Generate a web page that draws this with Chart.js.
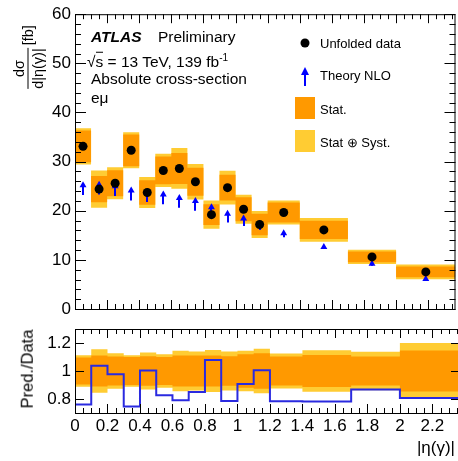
<!DOCTYPE html>
<html><head><meta charset="utf-8">
<script src="https://cdn.jsdelivr.net/npm/chart.js@4.4.1/dist/chart.umd.min.js"></script>
<style>
html,body{margin:0;padding:0;background:#fff;overflow:hidden;width:458px;height:461px;}
#wrap{position:relative;width:458px;height:461px;overflow:hidden;font-family:"Liberation Sans",Arial,sans-serif;color:#000;}
canvas{position:absolute;left:0;top:0;}
.t{position:absolute;white-space:nowrap;line-height:1;transform:translateY(-50%);}
.leg{font-size:13px;}
.hdr{font-size:15.5px;}
.rot{position:absolute;white-space:nowrap;line-height:1;transform:translate(-50%,-50%) rotate(-90deg);}
</style></head><body>
<div id="wrap">
<canvas id="bot" width="460" height="461"></canvas>
<canvas id="top" width="460" height="461"></canvas>

<div class="t hdr" style="left:91px;top:37px;"><b><i>ATLAS</i></b></div>
<div class="t hdr" style="left:158px;top:37px;">Preliminary</div>
<div class="t hdr" style="left:87px;top:61px;">√<span style="border-top:1px solid #000;">s</span> = 13 TeV, 139 fb<sup style="font-size:10px;vertical-align:6px;">-1</sup></div>
<div class="t hdr" style="left:91px;top:79px;">Absolute cross-section</div>
<div class="t hdr" style="left:91px;top:98px;">eμ</div>

<div class="t leg" style="left:320px;top:43px;">Unfolded data</div>
<div class="t leg" style="left:320px;top:75px;">Theory NLO</div>
<div class="t leg" style="left:320px;top:109px;">Stat.</div>
<div class="t leg" style="left:320px;top:142px;">Stat ⊕ Syst.</div>

<div class="rot" style="left:28px;top:57px;font-size:14.5px;">
  <div style="display:flex;align-items:center;">
    <div style="display:flex;flex-direction:column;align-items:center;">
      <div style="padding-bottom:1px;">dσ</div>
      <div style="border-top:1px solid #000;padding-top:2px;">d|η(γ)|</div>
    </div>
    <div style="margin-left:3px;">[fb]</div>
  </div>
</div>
<div class="rot" style="left:27px;top:369px;font-size:16.5px;">Pred./Data</div>
<div class="t" style="right:3px;top:447px;font-size:17px;">|η(γ)|</div>
</div>

<script>
// ---------------- data ----------------
const binEdges = [0, 0.1, 0.2, 0.3, 0.4, 0.5, 0.6, 0.7, 0.8, 0.9, 1.0, 1.1, 1.2, 1.4, 1.7, 2.0, 2.37];
const dataValues = [33.1, 24.4, 25.6, 32.3, 23.7, 28.2, 28.6, 25.9, 19.2, 24.7, 20.3, 17.2, 19.65, 16.1, 10.6, 7.55];
const theoryValues = [25.2, 25.3, 25.0, 24.1, 23.8, 23.3, 22.6, 22.0, 20.7, 19.4, 18.4, 17.3, 15.4, 12.6, 9.2, 6.1];
const theoryErrDown = [2.0, 2.0, 2.0, 2.0, 2.0, 2.0, 2.0, 2.0, 1.5, 1.8, 1.5, 1.2, 0.8, 0.4, 0.4, 0.3];
const statRelErr = [0.097, 0.11, 0.103, 0.10, 0.105, 0.10, 0.11, 0.11, 0.11, 0.106, 0.12, 0.127, 0.104, 0.115, 0.104, 0.146];
const totalRelErr = [0.112, 0.155, 0.127, 0.113, 0.133, 0.12, 0.145, 0.14, 0.15, 0.139, 0.145, 0.159, 0.125, 0.149, 0.137, 0.20];
const xTickValues = [0, 0.2, 0.4, 0.6, 0.8, 1.0, 1.2, 1.4, 1.6, 1.8, 2.0, 2.2];
const xTickLabels = ['0', '0.2', '0.4', '0.6', '0.8', '1', '1.2', '1.4', '1.6', '1.8', '2', '2.2'];
const yTickTop = [0, 10, 20, 30, 40, 50, 60];
const yTickRatio = [0.8, 1, 1.2];
const yTickRatioLabels = ['0.8', '1', '1.2'];

const ORANGE = '#ff9900', YELLOW = '#ffcc33', BLUE = '#0000ff', RLINE = '#2a2ae0';
const FONT = '"Liberation Sans", Arial, sans-serif';

// ---------------- helpers ----------------
const binCenters = dataValues.map((_, i) => (binEdges[i] + binEdges[i + 1]) / 2);
function stepPoints(vals) {
  const pts = vals.map((v, i) => ({x: binEdges[i], y: v}));
  pts.push({x: binEdges[binEdges.length - 1], y: vals[vals.length - 1]});
  return pts;
}
const totUp = dataValues.map((v, i) => v * (1 + totalRelErr[i]));
const totDn = dataValues.map((v, i) => v * (1 - totalRelErr[i]));
const stUp = dataValues.map((v, i) => v * (1 + statRelErr[i]));
const stDn = dataValues.map((v, i) => v * (1 - statRelErr[i]));
const rTotUp = totalRelErr.map(e => 1 + e), rTotDn = totalRelErr.map(e => 1 - e);
const rStUp = statRelErr.map(e => 1 + e), rStDn = statRelErr.map(e => 1 - e);
const ratio = theoryValues.map((t, i) => t / dataValues[i]);

function bandSet(up, dn, color, orderBase) {
  return [
    {data: stepPoints(up), stepped: 'before', borderWidth: 0, pointRadius: 0, backgroundColor: color, fill: '+1', order: orderBase + 1},
    {data: stepPoints(dn), stepped: 'before', borderWidth: 0, pointRadius: 0, backgroundColor: color, fill: false, order: orderBase}
  ];
}

// inner ROOT-like ticks + frame
const frameTicks = {
  id: 'frameTicks',
  afterDatasetsDraw(chart, args, o) {
    const {ctx, chartArea: a, scales: {x, y}} = chart;
    ctx.save();
    ctx.strokeStyle = '#000';
    ctx.lineWidth = 1;
    ctx.beginPath();
    const nx = Math.floor(x.max / o.xMinor + 1e-6);
    for (let i = 0; i <= nx; i++) {
      const v = i * o.xMinor;
      const r = v / o.xMajor;
      const major = Math.abs(r - Math.round(r)) < 1e-6;
      const L = major ? o.xMajorLen : o.xMinorLen;
      const px = Math.round(x.getPixelForValue(v)) + 0.5;
      ctx.moveTo(px, a.bottom); ctx.lineTo(px, a.bottom - L);
      ctx.moveTo(px, a.top); ctx.lineTo(px, a.top + L);
    }
    const ny0 = Math.ceil(y.min / o.yMinor - 1e-6), ny1 = Math.floor(y.max / o.yMinor + 1e-6);
    for (let i = ny0; i <= ny1; i++) {
      const v = i * o.yMinor;
      const r = v / o.yMajor;
      const major = Math.abs(r - Math.round(r)) < 1e-6;
      if (!major && !o.yMinorOn) continue;
      const L = major ? o.yMajorLen : o.yMinorLen;
      const py = Math.round(y.getPixelForValue(v)) + 0.5;
      ctx.moveTo(a.left, py); ctx.lineTo(a.left + L, py);
      ctx.moveTo(a.right, py); ctx.lineTo(a.right - L, py);
    }
    ctx.stroke();
    ctx.strokeRect(a.left + 0.5, a.top + 0.5, a.right - a.left - 1, a.bottom - a.top);
    ctx.restore();
  }
};

// theory stems drawn right after the theory markers
const theoryStems = {
  id: 'theoryStems',
  afterDatasetDraw(chart, args) {
    if (chart.data.datasets[args.index].label !== 'Theory NLO') return;
    const {ctx, scales: {x, y}} = chart;
    ctx.save();
    ctx.strokeStyle = BLUE;
    ctx.lineWidth = 2;
    ctx.beginPath();
    theoryValues.forEach((v, i) => {
      const px = Math.round(x.getPixelForValue(binCenters[i]));
      ctx.moveTo(px, y.getPixelForValue(v));
      ctx.lineTo(px, y.getPixelForValue(v - theoryErrDown[i]));
    });
    ctx.stroke();
    ctx.restore();
  }
};

// legend symbols
const legendSymbols = {
  id: 'legendSymbols',
  afterDraw(chart) {
    const ctx = chart.ctx;
    ctx.save();
    ctx.fillStyle = '#000';
    ctx.beginPath(); ctx.arc(305, 43, 4.5, 0, Math.PI * 2); ctx.fill();
    ctx.fillStyle = BLUE;
    ctx.beginPath(); ctx.moveTo(305, 67); ctx.lineTo(309, 75); ctx.lineTo(301, 75); ctx.closePath(); ctx.fill();
    ctx.strokeStyle = BLUE; ctx.lineWidth = 2;
    ctx.beginPath(); ctx.moveTo(305, 74); ctx.lineTo(305, 86); ctx.stroke();
    ctx.fillStyle = ORANGE; ctx.fillRect(295, 97, 20, 22);
    ctx.fillStyle = YELLOW; ctx.fillRect(295, 130, 20, 22);
    ctx.restore();
  }
};

function yAxisCommon(fontSize) {
  return {
    position: 'left',
    grid: {display: false, drawTicks: false},
    border: {display: false},
    ticks: {font: {family: FONT, size: fontSize}, color: '#000', padding: 4},
    afterFit: s => { s.width = 75; }
  };
}

// ---------------- top panel ----------------
new Chart(document.getElementById('top'), {
  type: 'line',
  data: {
    datasets: [
      ...bandSet(totUp, totDn, YELLOW, 4),
      ...bandSet(stUp, stDn, ORANGE, 2),
      {label: 'Theory NLO', type: 'scatter', data: binCenters.map((c, i) => ({x: c, y: theoryValues[i]})),
       pointStyle: 'triangle', pointRadius: 4, backgroundColor: BLUE, borderColor: BLUE, borderWidth: 0, order: 1},
      {label: 'Unfolded data', type: 'scatter', data: binCenters.map((c, i) => ({x: c, y: dataValues[i]})),
       pointStyle: 'circle', pointRadius: 4.5, backgroundColor: '#000', borderColor: '#000', borderWidth: 0, order: 0}
    ]
  },
  options: {
    responsive: false, animation: false, events: [],
    layout: {padding: {top: 12, bottom: 152, left: 0, right: 0}},
    plugins: {legend: {display: false}, tooltip: {enabled: false},
      frameTicks: {xMajor: 0.2, xMinor: 0.05, xMajorLen: 9, xMinorLen: 5, yMajor: 10, yMinor: 2, yMinorOn: true, yMajorLen: 11, yMinorLen: 6}},
    scales: {
      x: {type: 'linear', min: 0, max: binEdges[binEdges.length - 1],
          grid: {display: false, drawTicks: false}, border: {display: false}, ticks: {display: false},
          afterFit: s => { s.height = 0; }},
      y: Object.assign(yAxisCommon(17), {min: 0, max: 60,
          afterBuildTicks: s => { s.ticks = yTickTop.map(v => ({value: v})); }})
    }
  },
  plugins: [frameTicks, theoryStems, legendSymbols]
});

// ---------------- ratio panel ----------------
const yR = yAxisCommon(17);
yR.ticks.callback = (v, i) => yTickRatioLabels[i];
new Chart(document.getElementById('bot'), {
  type: 'line',
  data: {
    datasets: [
      ...bandSet(rTotUp, rTotDn, YELLOW, 4),
      ...bandSet(rStUp, rStDn, ORANGE, 2),
      {label: 'Theory/Data', data: stepPoints(ratio), stepped: 'before', borderColor: RLINE, borderWidth: 2,
       pointRadius: 0, fill: false, order: 0}
    ]
  },
  options: {
    responsive: false, animation: false, events: [],
    layout: {padding: {top: 329, bottom: 0, left: 0, right: 0}},
    plugins: {legend: {display: false}, tooltip: {enabled: false},
      frameTicks: {xMajor: 0.2, xMinor: 0.05, xMajorLen: 9, xMinorLen: 5, yMajor: 0.2, yMinor: 0.2, yMinorOn: false, yMajorLen: 9, yMinorLen: 5}},
    scales: {
      x: {type: 'linear', min: 0, max: binEdges[binEdges.length - 1],
          grid: {display: false, drawTicks: false}, border: {display: false},
          ticks: {font: {family: FONT, size: 17}, color: '#000', padding: 3, maxRotation: 0,
                  callback: (v, i) => xTickLabels[i]},
          afterBuildTicks: s => { s.ticks = xTickValues.map(v => ({value: v})); },
          afterFit: s => { s.height = 48; }},
      y: Object.assign(yR, {min: 0.7, max: 1.3,
          afterBuildTicks: s => { s.ticks = yTickRatio.map(v => ({value: v})); }})
    }
  },
  plugins: [frameTicks]
});
</script>
</body></html>
